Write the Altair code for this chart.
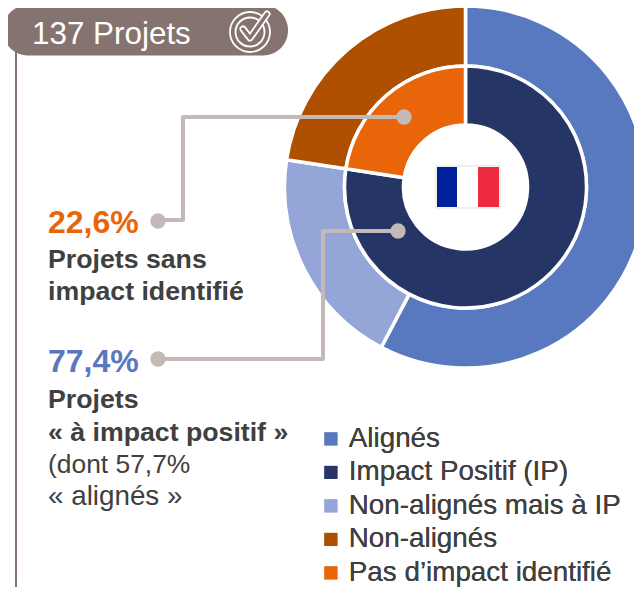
import altair as alt
import pandas as pd

FONT = "Liberation Sans"
W, H = 626, 579
PX = alt.Scale(domain=[8, 8 + W], range=[0, W])
PY = alt.Scale(domain=[8, 8 + H], range=[0, H])
CX, CY = 465.5 - 8, 187 - 8

categories = ["Alignés", "Impact Positif (IP)", "Non-alignés mais à IP", "Non-alignés", "Pas d’impact identifié"]
colors = ["#5878c0", "#243566", "#94a6d8", "#af4f00", "#e8650a"]

outer_cat = ["Alignés", "Non-alignés mais à IP", "Non-alignés"]
outer_val = [57.7, 19.7, 22.6]
inner_cat = ["Impact Positif (IP)", "Pas d’impact identifié"]
inner_val = [77.4, 22.6]

outer = pd.DataFrame({"cat": outer_cat, "val": outer_val, "ord": [0, 1, 2]})
inner = pd.DataFrame({"cat": inner_cat, "val": inner_val, "ord": [0, 1]})

color = alt.Color("cat:N", scale=alt.Scale(domain=categories, range=colors),
                  legend=alt.Legend(title=None, orient="none", legendX=309, legendY=417,
                                    symbolType="square", symbolSize=169, symbolStrokeWidth=0,
                                    labelFont=FONT, labelFontSize=27.8, labelColor="#404040",
                                    labelLimit=320, rowPadding=4.5, labelOffset=4))
theta = alt.Theta("val:Q", stack=True, scale=alt.Scale(domain=[0, 100]))


def ring(df, r0, r1):
    return alt.Chart(df).mark_arc(innerRadius=r0, outerRadius=r1, stroke="white", strokeWidth=3.5).encode(
        theta=theta, color=color, order=alt.Order("ord:Q"),
        x=alt.value(CX), y=alt.value(CY))


def xy():
    return dict(x=alt.X("x:Q", scale=PX, axis=None), y=alt.Y("y:Q", scale=PY, axis=None))


# pill header
pill_x = [3]; pill_x2 = [288]; pill_y = [5]; pill_y2 = [55.5]
pill = alt.Chart(pd.DataFrame({"x": pill_x, "x2": pill_x2, "y": pill_y, "y2": pill_y2})).mark_rect(
    color="#85736f", cornerRadius=25).encode(
    x=alt.X("x:Q", scale=PX, axis=None), x2="x2:Q", y=alt.Y("y:Q", scale=PY, axis=None), y2="y2:Q")

# left vertical rule
rule_x = [16, 16]; rule_y = [50, 587]
rule = alt.Chart(pd.DataFrame({"x": rule_x, "y": rule_y})).mark_line(color="#85736f", strokeWidth=2).encode(**xy())

# leaders
l1_x = [158, 183, 183, 404]; l1_y = [220, 220, 117, 117]
l2_x = [158, 323, 323, 398]; l2_y = [359, 359, 231, 231]
leaders = pd.DataFrame({"x": l1_x + l2_x, "y": l1_y + l2_y, "g": ["a"] * 4 + ["b"] * 4, "o": list(range(8))})
lead = alt.Chart(leaders).mark_line(color="#c3b9b7", strokeWidth=4, strokeJoin="round").encode(
    detail="g:N", order="o:Q", **xy())
dots_x = [158, 404, 158, 398]; dots_y = [221, 117, 359, 231]
dots = alt.Chart(pd.DataFrame({"x": dots_x, "y": dots_y})).mark_circle(
    color="#c3b9b7", opacity=1, size=235).encode(**xy())

# flag
flag_x = [435, 437, 457, 478]; flag_x2 = [501, 457, 478, 499]
flag_y = [165, 167, 167, 167]; flag_y2 = [209, 207, 207, 207]
flag_c = ["#f0f0f0", "#00209a", "#ffffff", "#ee2a3e"]
flag = alt.Chart(pd.DataFrame({"x": flag_x, "x2": flag_x2, "y": flag_y, "y2": flag_y2, "c": flag_c})).mark_rect().encode(
    x=alt.X("x:Q", scale=PX, axis=None), x2="x2:Q", y=alt.Y("y:Q", scale=PY, axis=None), y2="y2:Q",
    color=alt.Color("c:N", scale=None, legend=None))

# texts
t_label = ["137 Projets", "22,6%", "Projets sans", "impact identifié", "77,4%", "Projets",
           "« à impact positif »", "(dont 57,7%", "« alignés »"]
t_x = [32, 48, 48, 48, 48, 48, 48, 48, 48]
t_y = [44, 233, 268, 300, 372, 408, 441, 473, 505]
t_size = [31.4, 32, 26.7, 26.7, 32, 26.7, 26.7, 26.4, 27.8]
t_weight = ["normal", "bold", "bold", "bold", "bold", "bold", "bold", "normal", "normal"]
t_color = ["#ffffff", "#e8650a", "#404040", "#404040", "#5878c0", "#404040", "#404040", "#404040", "#404040"]
tdf = pd.DataFrame({"t": t_label, "x": t_x, "y": t_y, "s": t_size, "w": t_weight, "c": t_color})
texts = []
for w in ["normal", "bold"]:
    texts.append(alt.Chart(tdf[tdf.w == w]).mark_text(align="left", baseline="alphabetic", font=FONT, fontWeight=w).encode(
        text="t:N", size=alt.Size("s:Q", scale=None, legend=None),
        color=alt.Color("c:N", scale=None, legend=None), **xy()))

# icon: concentric circles, check mark with pencil outline
ic_x = [250, 250]; ic_y = [32, 32]; ic_s = [1600, 840]
icon_c = alt.Chart(pd.DataFrame({"x": ic_x, "y": ic_y, "s": ic_s})).mark_point(
    shape="circle", color="white", strokeWidth=1.8, filled=False, opacity=1).encode(
    size=alt.Size("s:Q", scale=None, legend=None), **xy())
chk_x = [243, 250, 267]; chk_y = [29, 38, 14]
chk_df = pd.DataFrame({"x": chk_x, "y": chk_y, "o": [0, 1, 2]})
icon_l = alt.Chart(chk_df).mark_line(color="white", strokeWidth=7, strokeCap="round", strokeJoin="round").encode(order="o:Q", **xy())
icon_m = alt.Chart(chk_df).mark_line(color="#85736f", strokeWidth=3.5, strokeCap="round", strokeJoin="round").encode(order="o:Q", **xy())

chart = alt.layer(
    ring(outer, 121, 181), ring(inner, 62, 121),
    pill, rule, lead, dots, flag, icon_c, icon_l, icon_m, *texts
).resolve_scale(color="independent", size="independent", theta="shared").properties(
    width=W, height=H, padding=0, autosize=alt.AutoSizeParams(type="none"),
    background="white"
).configure_view(stroke=None)

chart.save("out.html", embed_options={"renderer": "svg", "actions": False})
